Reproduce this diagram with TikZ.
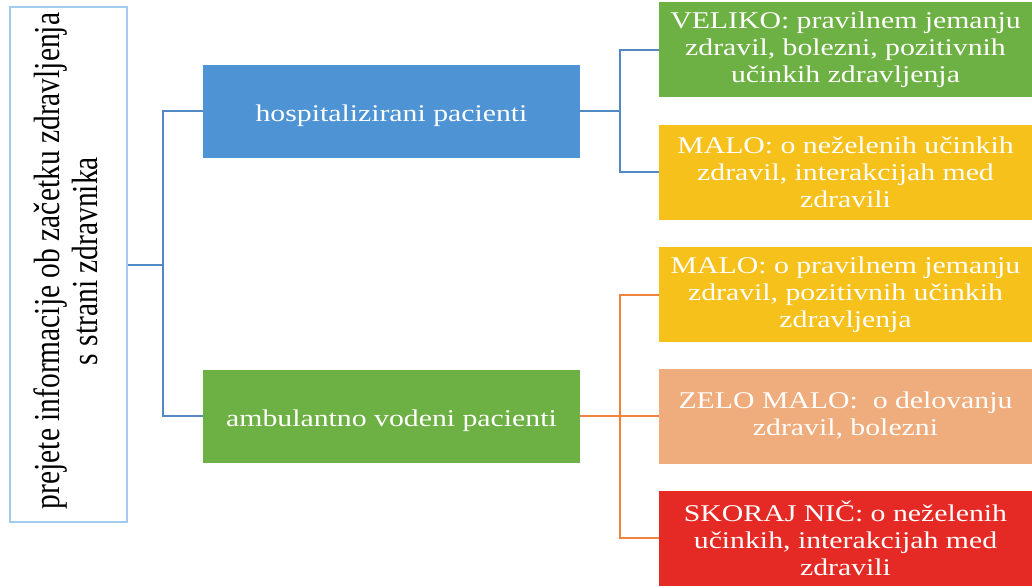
\documentclass[tikz,border=0pt]{standalone}
\usepackage{fontspec}
\usepackage{graphicx}
\setmainfont{Liberation Serif}
\newfontfamily\widefont[FakeStretch=1.24]{Liberation Serif}
\definecolor{boxblue}{HTML}{4E93D3}
\definecolor{boxgreen}{HTML}{6DB043}
\definecolor{boxyellow}{HTML}{F6C11B}
\definecolor{boxpeach}{HTML}{EFAC7C}
\definecolor{boxred}{HTML}{E52A25}
\definecolor{lineblue}{HTML}{5289C4}
\definecolor{lineorange}{HTML}{EE8440}
\definecolor{frameblue}{HTML}{A2CBEE}
\begin{document}
\begin{tikzpicture}[x=1pt,y=-1pt,
  tile/.style={rectangle, inner sep=0pt, text=white, align=center,
    font=\widefont\fontsize{24}{27}\selectfont},
  midbox/.style={tile, minimum width=377pt, minimum height=93pt,
    text height=20pt, text depth=0pt},
  leafbox/.style={tile, minimum width=373pt, minimum height=95pt},
  bluelink/.style={draw=lineblue, line width=2pt},
  orangelink/.style={draw=lineorange, line width=2pt}]
\useasboundingbox (0,0) rectangle (1032,588);
\fill[white] (0,0) rectangle (1032,588);

% root box with vertical caption
\node[draw=frameblue, line width=2.5pt, fill=white, minimum width=117pt,
  minimum height=515pt, inner sep=0pt] (root) at (68.5,264.5) {};
\node[rotate=90, inner sep=0pt] (roottext) at (71,261)
  {\scalebox{1}[1.24]{\fontsize{29.5}{30}\selectfont
   \begin{tabular}{@{}c@{}}prejete informacije ob začetku zdravljenja\\
   s strani zdravnika\end{tabular}}};

% patient groups
\node[midbox, fill=boxblue] (hosp) at (391.5,111.5) {hospitalizirani pacienti};
\node[midbox, fill=boxgreen] (amb) at (391.5,416) {ambulantno vodeni pacienti};

% levels of information
\node[leafbox, fill=boxgreen] (r1) at (845.5,50)
  {VELIKO: pravilnem jemanju\\zdravil, bolezni, pozitivnih\\učinkih zdravljenja};
\node[leafbox, fill=boxyellow] (r2) at (845.5,172.5)
  {MALO: o neželenih učinkih\\zdravil, interakcijah med\\zdravili};
\node[leafbox, fill=boxyellow] (r3) at (845.5,294.5)
  {MALO: o pravilnem jemanju\\zdravil, pozitivnih učinkih\\zdravljenja};
\node[leafbox, fill=boxpeach] (r4) at (845.5,416)
  {ZELO MALO:\ \ o delovanju\\zdravil, bolezni};
\node[leafbox, fill=boxred] (r5) at (845.5,538)
  {SKORAJ NIČ: o neželenih\\učinkih, interakcijah med\\zdravili};

% junction points
\coordinate (j1) at (163,264.5);
\coordinate (j2) at (620,111.5);
\coordinate (j3) at (620,416);

% connectors
\draw[bluelink] (root.east) -- (j1);
\draw[bluelink] (hosp.west) -| (j1);
\draw[bluelink] (amb.west) -| (j1);
\draw[bluelink] (hosp.east) -- (j2);
\draw[bluelink] (r1.west) -| (j2);
\draw[bluelink] (r2.west) -| (j2);
\draw[orangelink] (amb.east) -- (j3);
\draw[orangelink] (r3.west) -| (j3);
\draw[orangelink] (r4.west) -- (j3);
\draw[orangelink] (r5.west) -| (j3);
\end{tikzpicture}
\end{document}
